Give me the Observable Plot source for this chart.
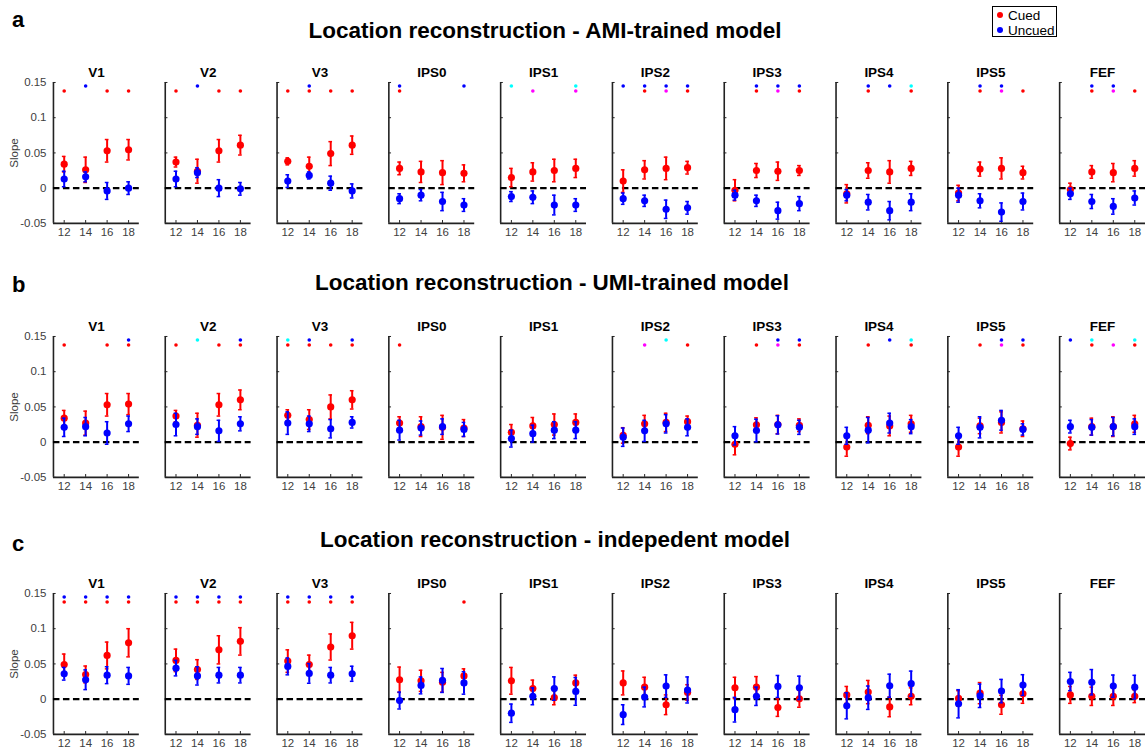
<!DOCTYPE html>
<html>
<head>
<meta charset="utf-8">
<script src="https://cdn.jsdelivr.net/npm/d3@7"></script>
<script src="https://cdn.jsdelivr.net/npm/@observablehq/plot@0.6"></script>
<style>
  html, body { margin: 0; padding: 0; background: #fff; overflow: hidden; }
  #fig { position: relative; width: 1145px; height: 751px; overflow: hidden; background: #fff;
         font-family: "Liberation Sans", Arial, Helvetica, sans-serif; }
  .abs { position: absolute; white-space: nowrap; }
  .letter { font-weight: bold; font-size: 22px; line-height: 1; color: #000; }
  .title { font-weight: bold; font-size: 22.5px; line-height: 1; color: #000; transform: translateX(-50%); }
  .slope { font-size: 11.5px; color: #404040; line-height: 1; transform: translate(-50%, -50%) rotate(-90deg); }
  #legend { position: absolute; left: 992px; top: 6px; width: 63px; height: 29px; border: 1.5px solid #000; background: #fff; }
  #legend .item { position: absolute; left: 4px; font-size: 13.5px; line-height: 1; color: #000; }
  #legend .dot { display: inline-block; width: 6px; height: 6px; border-radius: 50%; margin-right: 5px; vertical-align: 2px; }
</style>
</head>
<body>
<div id="fig"></div>
<script>
// ---------- categories & labels ----------
const regions = ["V1","V2","V3","IPS0","IPS1","IPS2","IPS3","IPS4","IPS5","FEF"];
const stims = [12, 14, 16, 18];
const conditions = ["Cued", "Uncued"];
const rowLetters = ["a", "b", "c"];
const rowTitles = [
  "Location reconstruction - AMI-trained model",
  "Location reconstruction - UMI-trained model",
  "Location reconstruction - indepedent model"
];
const yTicks = [-0.05, 0, 0.05, 0.1, 0.15];
const yTickLabels = ["-0.05", "0", "0.05", "0.1", "0.15"];
const yLabel = "Slope";

// ---------- row a: AMI-trained model ----------
const cuedMeanA = [
  [0.034, 0.026, 0.053, 0.0545], [0.037, 0.024, 0.053, 0.061], [0.038, 0.031, 0.049, 0.061],
  [0.028, 0.023, 0.022, 0.021], [0.015, 0.023, 0.025, 0.028], [0.010, 0.026, 0.028, 0.029],
  [-0.003, 0.025, 0.024, 0.025], [-0.008, 0.025, 0.023, 0.028], [-0.007, 0.027, 0.028, 0.022],
  [-0.002, 0.023, 0.022, 0.028]
];
const cuedErrA = [
  [0.011, 0.018, 0.016, 0.0145], [0.007, 0.017, 0.016, 0.014], [0.005, 0.013, 0.017, 0.013],
  [0.009, 0.015, 0.017, 0.012], [0.013, 0.013, 0.016, 0.013], [0.016, 0.013, 0.016, 0.009],
  [0.015, 0.010, 0.013, 0.007], [0.013, 0.011, 0.016, 0.010], [0.011, 0.010, 0.015, 0.009],
  [0.009, 0.009, 0.013, 0.011]
];
const uncuedMeanA = [
  [0.013, 0.016, -0.004, 0.000], [0.013, 0.022, 0.000, -0.001], [0.010, 0.018, 0.007, -0.004],
  [-0.015, -0.010, -0.019, -0.024], [-0.012, -0.013, -0.024, -0.024], [-0.015, -0.018, -0.030, -0.028],
  [-0.010, -0.018, -0.032, -0.022], [-0.010, -0.020, -0.032, -0.020], [-0.010, -0.018, -0.034, -0.019],
  [-0.008, -0.019, -0.026, -0.014]
];
const uncuedErrA = [
  [0.011, 0.007, 0.012, 0.009], [0.011, 0.007, 0.012, 0.009], [0.009, 0.005, 0.010, 0.010],
  [0.007, 0.008, 0.013, 0.009], [0.007, 0.009, 0.014, 0.009], [0.008, 0.008, 0.013, 0.009],
  [0.007, 0.008, 0.012, 0.010], [0.008, 0.011, 0.013, 0.012], [0.010, 0.010, 0.013, 0.012],
  [0.008, 0.010, 0.011, 0.010]
];
// significance codes: b = uncued, r = cued, c = cyan, m = magenta
const sigA = [
  ["r","b","r","r"], ["r","b","r","r"], ["r","br","r","r"], ["br","","","b"], ["c","m","","cm"],
  ["b","br","bm","br"], ["","br","bm","br"], ["","br","b","cr"], ["","br","bm","r"], ["","br","bm","r"]
];

// ---------- row b: UMI-trained model ----------
const cuedMeanB = [
  [0.034, 0.027, 0.053, 0.054], [0.037, 0.024, 0.053, 0.060], [0.038, 0.032, 0.050, 0.060],
  [0.027, 0.022, 0.021, 0.020], [0.014, 0.023, 0.025, 0.028], [0.0095, 0.026, 0.028, 0.029],
  [-0.003, 0.0245, 0.025, 0.024], [-0.007, 0.024, 0.023, 0.026], [-0.007, 0.023, 0.028, 0.019],
  [-0.002, 0.022, 0.022, 0.026]
];
const cuedErrB = [
  [0.011, 0.017, 0.016, 0.015], [0.008, 0.017, 0.016, 0.014], [0.008, 0.014, 0.017, 0.013],
  [0.009, 0.014, 0.017, 0.012], [0.011, 0.012, 0.015, 0.012], [0.011, 0.012, 0.013, 0.008],
  [0.015, 0.010, 0.013, 0.009], [0.013, 0.012, 0.014, 0.012], [0.013, 0.011, 0.015, 0.011],
  [0.009, 0.012, 0.014, 0.012]
];
const uncuedMeanB = [
  [0.021, 0.022, 0.013, 0.026], [0.025, 0.022, 0.016, 0.026], [0.027, 0.026, 0.019, 0.028],
  [0.017, 0.020, 0.022, 0.018], [0.005, 0.012, 0.017, 0.017], [0.007, 0.016, 0.026, 0.021],
  [0.009, 0.0165, 0.0245, 0.021], [0.009, 0.017, 0.027, 0.022], [0.009, 0.021, 0.031, 0.018],
  [0.022, 0.021, 0.022, 0.022]
];
const uncuedErrB = [
  [0.013, 0.013, 0.016, 0.011], [0.016, 0.011, 0.015, 0.010], [0.016, 0.011, 0.013, 0.008],
  [0.014, 0.010, 0.011, 0.010], [0.012, 0.012, 0.012, 0.012], [0.013, 0.015, 0.013, 0.012],
  [0.013, 0.016, 0.013, 0.010], [0.012, 0.018, 0.014, 0.010], [0.012, 0.015, 0.014, 0.008],
  [0.009, 0.011, 0.013, 0.011]
];
const sigB = [
  ["r","","r","br"], ["r","c","r","br"], ["cr","br","r","br"], ["r","","",""], ["","","",""],
  ["","m","c","r"], ["","r","bm","br"], ["","r","b","cr"], ["","r","bm","br"], ["b","cr","m","cr"]
];

// ---------- row c: independent model ----------
const cuedMeanC = [
  [0.049, 0.035, 0.062, 0.080], [0.055, 0.042, 0.070, 0.082], [0.054, 0.049, 0.074, 0.090],
  [0.0275, 0.026, 0.024, 0.033], [0.026, 0.015, 0.002, 0.023], [0.023, 0.017, -0.008, 0.0095],
  [0.016, 0.017, -0.012, 0.0005], [0.006, 0.010, -0.011, 0.004], [0.001, 0.0085, -0.008, 0.0076],
  [0.006, 0.004, 0.004, 0.004]
];
const cuedErrC = [
  [0.015, 0.012, 0.019, 0.020], [0.016, 0.014, 0.020, 0.0195], [0.016, 0.0135, 0.0185, 0.019],
  [0.018, 0.015, 0.014, 0.010], [0.019, 0.012, 0.010, 0.011], [0.017, 0.014, 0.014, 0.011],
  [0.015, 0.015, 0.0125, 0.012], [0.012, 0.0165, 0.014, 0.012], [0.011, 0.015, 0.0135, 0.0135],
  [0.012, 0.013, 0.013, 0.009]
];
const uncuedMeanC = [
  [0.036, 0.0275, 0.034, 0.033], [0.044, 0.033, 0.034, 0.034], [0.0465, 0.0365, 0.034, 0.036],
  [-0.002, 0.0195, 0.0265, 0.023], [-0.020, 0.004, 0.015, 0.011], [-0.022, 0.003, 0.0185, 0.013],
  [-0.015, 0.004, 0.018, 0.016], [-0.0095, 0.002, 0.019, 0.022], [-0.0066, 0.0047, 0.0114, 0.020],
  [0.025, 0.024, 0.0185, 0.017]
];
const uncuedErrC = [
  [0.009, 0.014, 0.012, 0.012], [0.011, 0.013, 0.011, 0.011], [0.012, 0.014, 0.011, 0.0107],
  [0.012, 0.012, 0.017, 0.016], [0.013, 0.012, 0.0166, 0.0197], [0.014, 0.014, 0.016, 0.0185],
  [0.0175, 0.013, 0.0156, 0.0166], [0.0185, 0.0166, 0.0164, 0.0178], [0.020, 0.0166, 0.0166, 0.0147],
  [0.013, 0.018, 0.0157, 0.0168]
];
const sigC = [
  ["br","br","br","br"], ["br","br","br","br"], ["br","br","br","br"], ["","","","r"], ["","","",""],
  ["","","",""], ["","","",""], ["","","",""], ["","","",""], ["","","",""]
];

// ---------- styling (not data) ----------
const condColor = {Cued: "#ff0000", Uncued: "#0000ff"};
const sigStyle = {
  b: {level: 0.145, color: "#0000ff"},
  c: {level: 0.145, color: "#00ffff"},
  r: {level: 0.138, color: "#ff0000"},
  m: {level: 0.138, color: "#ff00ff"}
};
const xDomain = [11, 19];
const yDomain = [-0.05, 0.15];

function rowData(cm, ce, um, ue) {
  const out = [];
  regions.forEach((region, i) => stims.forEach((stim, j) => {
    out.push({region, stim, cond: "Cued", mean: cm[i][j], err: ce[i][j]});
    out.push({region, stim, cond: "Uncued", mean: um[i][j], err: ue[i][j]});
  }));
  return out;
}
function sigData(sig) {
  const out = [];
  regions.forEach((region, i) => stims.forEach((stim, j) => {
    for (const code of sig[i][j]) out.push({region, stim, level: sigStyle[code].level, color: sigStyle[code].color});
  }));
  return out;
}

function makeRow(data, sigs) {
  const condMarks = conditions.flatMap(cond => {
    const d = data.filter(e => e.cond === cond);
    const c = condColor[cond];
    return [
      Plot.ruleX(d, {fx: "region", x: "stim", y1: e => e.mean - e.err, y2: e => e.mean + e.err, stroke: c, strokeWidth: 2}),
      Plot.ruleY(d, {fx: "region", y: e => e.mean - e.err, x1: e => e.stim - 0.17, x2: e => e.stim + 0.17, stroke: c, strokeWidth: 1.5}),
      Plot.ruleY(d, {fx: "region", y: e => e.mean + e.err, x1: e => e.stim - 0.17, x2: e => e.stim + 0.17, stroke: c, strokeWidth: 1.5}),
      Plot.dot(d, {fx: "region", x: "stim", y: "mean", r: 3.6, fill: c, stroke: "none"})
    ];
  });
  return Plot.plot({
    width: 1146, height: 196,
    marginLeft: 53, marginRight: 0, marginTop: 30, marginBottom: 25,
    style: {fontFamily: "'Liberation Sans', Arial, Helvetica, sans-serif", fontSize: "11.5px", color: "#404040", background: "transparent", overflow: "visible"},
    fx: {domain: regions, paddingInner: 0.232, paddingOuter: 0, round: false, label: null},
    x: {domain: xDomain, label: null},
    y: {domain: yDomain, label: null},
    marks: [
      Plot.axisFx({anchor: "top", tickSize: 0, tickPadding: 5, fontSize: 13.5, fontWeight: "bold", fill: "#000", label: null}),
      Plot.axisY({ticks: yTicks, tickSize: 0, tickPadding: 7, tickFormat: d => yTickLabels[yTicks.indexOf(d)], label: null}),
      Plot.axisX({ticks: stims, tickSize: 0, tickPadding: 4, label: null}),
      Plot.ruleY(yTicks, {x1: xDomain[0], x2: xDomain[0] + 0.25, stroke: "#222", strokeWidth: 1}),
      Plot.ruleX(stims, {y1: yDomain[0], y2: yDomain[0] + 0.004, stroke: "#222", strokeWidth: 1}),
      Plot.ruleX([xDomain[0]], {stroke: "#222", strokeWidth: 1.6}),
      Plot.ruleY([yDomain[0]], {stroke: "#222", strokeWidth: 1.6}),
      Plot.ruleY([0], {stroke: "#000", strokeWidth: 2.2, strokeDasharray: "6.5,3.5"}),
      Plot.dot(sigs, {fx: "region", x: "stim", y: "level", r: 1.8, fill: "color", stroke: "none"}),
      ...condMarks
    ]
  });
}

const fig = document.getElementById("fig");
const rows = [
  {data: rowData(cuedMeanA, cuedErrA, uncuedMeanA, uncuedErrA), sig: sigData(sigA), top: 52, letterTop: 9, titleTop: 20, titleX: 545},
  {data: rowData(cuedMeanB, cuedErrB, uncuedMeanB, uncuedErrB), sig: sigData(sigB), top: 306, letterTop: 274, titleTop: 272, titleX: 552},
  {data: rowData(cuedMeanC, cuedErrC, uncuedMeanC, uncuedErrC), sig: sigData(sigC), top: 563, letterTop: 533, titleTop: 529, titleX: 555}
];
rows.forEach((r, i) => {
  const letter = document.createElement("div");
  letter.className = "abs letter";
  letter.style.left = "12px"; letter.style.top = r.letterTop + "px";
  letter.textContent = rowLetters[i];
  fig.appendChild(letter);

  const title = document.createElement("div");
  title.className = "abs title";
  title.style.left = r.titleX + "px"; title.style.top = r.titleTop + "px";
  title.textContent = rowTitles[i];
  fig.appendChild(title);

  const holder = document.createElement("div");
  holder.className = "abs";
  holder.style.left = "0px"; holder.style.top = r.top + "px";
  holder.appendChild(makeRow(r.data, r.sig));
  fig.appendChild(holder);

  const sl = document.createElement("div");
  sl.className = "abs slope";
  sl.style.left = "15px"; sl.style.top = (r.top + 100.5) + "px";
  sl.textContent = yLabel;
  fig.appendChild(sl);
});

// legend
const legend = document.createElement("div");
legend.id = "legend";
conditions.forEach((cond, i) => {
  const item = document.createElement("div");
  item.className = "item";
  item.style.top = (2 + i * 15) + "px";
  const dot = document.createElement("span");
  dot.className = "dot";
  dot.style.background = condColor[cond];
  item.appendChild(dot);
  item.appendChild(document.createTextNode(cond));
  legend.appendChild(item);
});
fig.appendChild(legend);
</script>
</body>
</html>
